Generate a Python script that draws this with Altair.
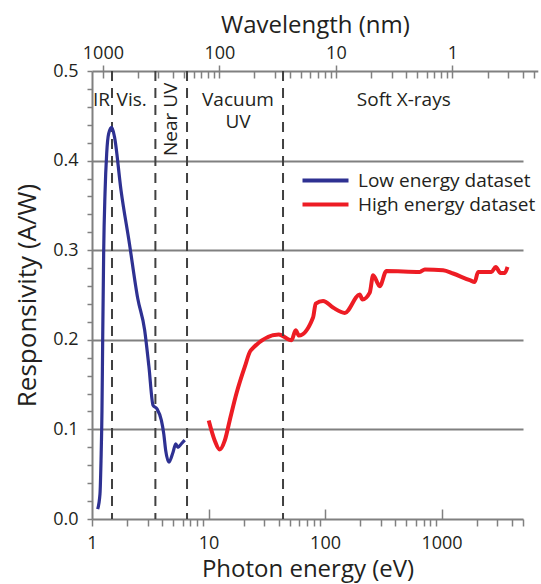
import altair as alt
import pandas as pd

# ---------------- data ----------------
series_names = ["Low energy dataset", "High energy dataset"]

low_energy_ev = [1.119, 1.171, 1.195, 1.218, 1.235, 1.26, 1.293, 1.337, 1.39, 1.476,
                 1.557, 1.774, 2.094, 2.47, 2.83, 3.08, 3.34, 3.61, 3.94, 4.13,
                 4.29, 4.58, 4.96, 5.23, 5.47, 5.85, 6.25]
low_resp = [0.011, 0.028, 0.065, 0.121, 0.199, 0.300, 0.363, 0.408, 0.430, 0.437,
            0.427, 0.367, 0.3075, 0.246, 0.211, 0.170, 0.127, 0.123, 0.110, 0.095,
            0.0765, 0.0635, 0.0746, 0.084, 0.080, 0.084, 0.088]

high_energy_ev = [10.04, 11.3, 12.47, 13.8, 15.2, 17.36, 20.5, 23.0, 40.1, 51.5,
                  56.0, 59.8, 78.9, 83.2, 96.2, 117, 147.6, 198.6, 209.4, 242,
                  258.5, 295, 336.5, 650, 718, 1031, 1256, 1746, 1928, 2057,
                  2679, 2917, 3204, 3486, 3680]
high_resp = [0.110, 0.0877, 0.0777, 0.0877, 0.110, 0.140, 0.170, 0.188, 0.206, 0.1994,
             0.2106, 0.2047, 0.2248, 0.2404, 0.2434, 0.236, 0.230, 0.2505, 0.245, 0.2527,
             0.272, 0.2598, 0.2769, 0.2758, 0.2784, 0.2777, 0.274, 0.2665, 0.2646, 0.2758,
             0.2758, 0.2813, 0.2746, 0.2746, 0.2813]

boundary_ev = [1.485, 3.50, 6.54, 43.6]

region_labels = ["IR", "Vis.", "Vacuum\nUV", "Soft X-rays"]
region_label_ev = [1.204, 2.19, 17.9, 474]
region_label_resp = [0.4676, 0.4676, 0.4676, 0.468]

rotated_labels = ["Near UV"]
rotated_label_ev = [4.79]
rotated_label_resp = [0.446]

energy_major = [1, 10, 100, 1000]
energy_minor = [1, 2, 3, 4, 5, 6, 7, 8, 9, 10, 20, 30, 40, 50, 60, 70, 80, 90,
                100, 200, 300, 400, 500, 600, 700, 800, 900,
                1000, 2000, 3000, 4000, 5000]
wavelength_major = [1000, 100, 10, 1]
hc = 1239.84  # eV*nm
wl_factors = [1, 2, 3, 4, 5, 6, 7, 8, 9, 10, 20, 30, 40, 50, 60, 70, 80, 90,
              100, 200, 300, 400, 500, 600, 700, 800, 900,
              1000, 2000, 3000, 4000, 5000]
y_ticks = [0.0, 0.02, 0.04, 0.06, 0.08, 0.1, 0.12, 0.14, 0.16, 0.18, 0.2, 0.22, 0.24,
           0.26, 0.28, 0.3, 0.32, 0.34, 0.36, 0.38, 0.4, 0.42, 0.44, 0.46, 0.48, 0.5]
y_grid = [0.1, 0.2, 0.3, 0.4]

# ---------------- styles ----------------
FONT = "Open Sans"
TXT = "#231F20"
GRAY = "#808080"
DASH = "#404040"
BLUE = "#2E3192"
RED = "#ED1C24"
W, H = 431, 448

df_low = pd.DataFrame({"energy": low_energy_ev, "resp": low_resp, "series": series_names[0]})
df_high = pd.DataFrame({"energy": high_energy_ev, "resp": high_resp, "series": series_names[1]})
df_bound = pd.DataFrame({"energy": boundary_ev})
df_text = pd.DataFrame({"energy": region_label_ev, "resp": region_label_resp, "label": region_labels})
df_rot = pd.DataFrame({"energy": rotated_label_ev, "resp": rotated_label_resp, "label": rotated_labels})

main_x = alt.Scale(type="log", domain=[1, 5000], nice=False)
top_x = alt.Scale(type="log", domain=[1, 6700], range=[0, 445.8], nice=False)
yscale = alt.Scale(domain=[0, 0.5], nice=False, zero=False)
color_scale = alt.Scale(domain=series_names, range=[BLUE, RED])

legend_spec = alt.Legend(
    title=None, orient="none", legendX=224, legendY=100, direction="vertical",
    symbolType="M-4.6,0L4.6,0", symbolSize=100, symbolStrokeWidth=4,
    labelFont=FONT, labelFontSize=19, labelColor=TXT, labelOffset=23,
    labelLimit=400, rowPadding=4, padding=0,
)

major_test = "indexof([10,100,1000], datum.value) >= 0"

bottom_axis_a = alt.Axis(
    orient="bottom", values=energy_minor,
    labelExpr="indexof([1,10,100,1000], datum.value) >= 0 ? format(datum.value, 'd') : ''",
    tickSize=7, tickColor=GRAY, tickWidth=1.5,
    tickOpacity={"condition": {"test": major_test, "value": 0}, "value": 1},
    domainColor=GRAY, domainWidth=2, grid=False,
    labelFont=FONT, labelFontSize=18, labelColor=TXT, labelPadding=8,
    labelFlush=False, labelOverlap=False,
    title="Photon energy (eV)", titleFont=FONT, titleFontSize=24,
    titleFontWeight="normal", titleColor=TXT, titlePadding=5,
)
bottom_axis_b = alt.Axis(
    orient="bottom", values=[10, 100, 1000], offset=-10, tickSize=10,
    tickColor=GRAY, tickWidth=1.5, domain=False, labels=False, grid=False, title=None,
)
y_axis_a = alt.Axis(
    orient="left", values=y_ticks,
    labelExpr="abs(datum.value*10 - round(datum.value*10)) < 0.001 ? format(datum.value, '.1f') : ''",
    tickSize=5, tickColor=GRAY, tickWidth=1.5, domainColor=GRAY, domainWidth=2,
    grid=False, labelFont=FONT, labelFontSize=18, labelColor=TXT, labelPadding=9,
    labelOverlap=False,
    title="Responsivity (A/W)", titleFont=FONT, titleFontSize=26,
    titleFontWeight="normal", titleColor=TXT, titlePadding=12,
)
y_axis_grid = alt.Axis(
    orient="left", values=y_grid, grid=True, gridColor=GRAY, gridWidth=2,
    ticks=False, labels=False, domain=False, title=None,
)
top_axis_a = alt.Axis(
    orient="top", values=[hc / w for w in wavelength_major],
    labelExpr="format(round(1239.84/datum.value), 'd')",
    ticks=False, domainColor=GRAY, domainWidth=2, grid=False,
    labelFont=FONT, labelFontSize=18, labelColor=TXT, labelPadding=9,
    labelFlush=False, labelOverlap=False,
    title="Wavelength (nm)", titleFont=FONT, titleFontSize=24,
    titleFontWeight="normal", titleColor=TXT, titlePadding=7,
)
top_major_test = "abs(log(datum.value/1.23984)/log(10) - round(log(datum.value/1.23984)/log(10))) < 0.001"
top_axis_b = alt.Axis(
    orient="top", values=[hc / 1000 * f for f in wl_factors], offset=-7,
    tickSize={"condition": {"test": top_major_test, "value": 13}, "value": 7},
    tickColor=GRAY, tickWidth=1.5, domain=False, labels=False, grid=False, title=None,
)

rules = alt.Chart(df_bound).mark_rule(color=DASH, strokeWidth=2, strokeDash=[10, 7]).encode(
    x=alt.X("energy:Q", scale=main_x, axis=bottom_axis_a),
)

blue = alt.Chart(df_low).mark_line(strokeWidth=3.2, interpolate="monotone").encode(
    x=alt.X("energy:Q", scale=main_x, axis=bottom_axis_b),
    y=alt.Y("resp:Q", scale=yscale, axis=y_axis_a),
    color=alt.Color("series:N", scale=color_scale, legend=legend_spec),
)

red = alt.Chart(df_high).mark_line(strokeWidth=4, interpolate="monotone").encode(
    x=alt.X("energy:Q", scale=main_x, axis=None),
    y=alt.Y("resp:Q", scale=yscale, axis=y_axis_grid),
    color=alt.Color("series:N", scale=color_scale, legend=legend_spec),
)

texts = alt.Chart(df_text).mark_text(
    font=FONT, fontSize=19, color=TXT, align="center", baseline="middle",
    lineBreak="\n", lineHeight=22,
).encode(
    x=alt.X("energy:Q", scale=top_x, axis=top_axis_a),
    y=alt.Y("resp:Q", scale=yscale, axis=None),
    text="label:N",
)

rot = alt.Chart(df_rot).mark_text(
    font=FONT, fontSize=19, color=TXT, align="center", baseline="middle", angle=270
).encode(
    x=alt.X("energy:Q", scale=top_x, axis=top_axis_b),
    y=alt.Y("resp:Q", scale=yscale, axis=None),
    text="label:N",
)

chart = alt.layer(red, rules, blue, texts, rot).resolve_scale(
    x="independent"
).resolve_axis(
    x="independent", y="independent"
).properties(
    width=W, height=H,
    autosize=alt.AutoSizeParams(type="none"),
    padding={"left": 92, "top": 71, "right": 18, "bottom": 65},
    background="white",
).configure_view(strokeWidth=0)

chart.save("out.html", embed_options={"renderer": "svg", "actions": False})
